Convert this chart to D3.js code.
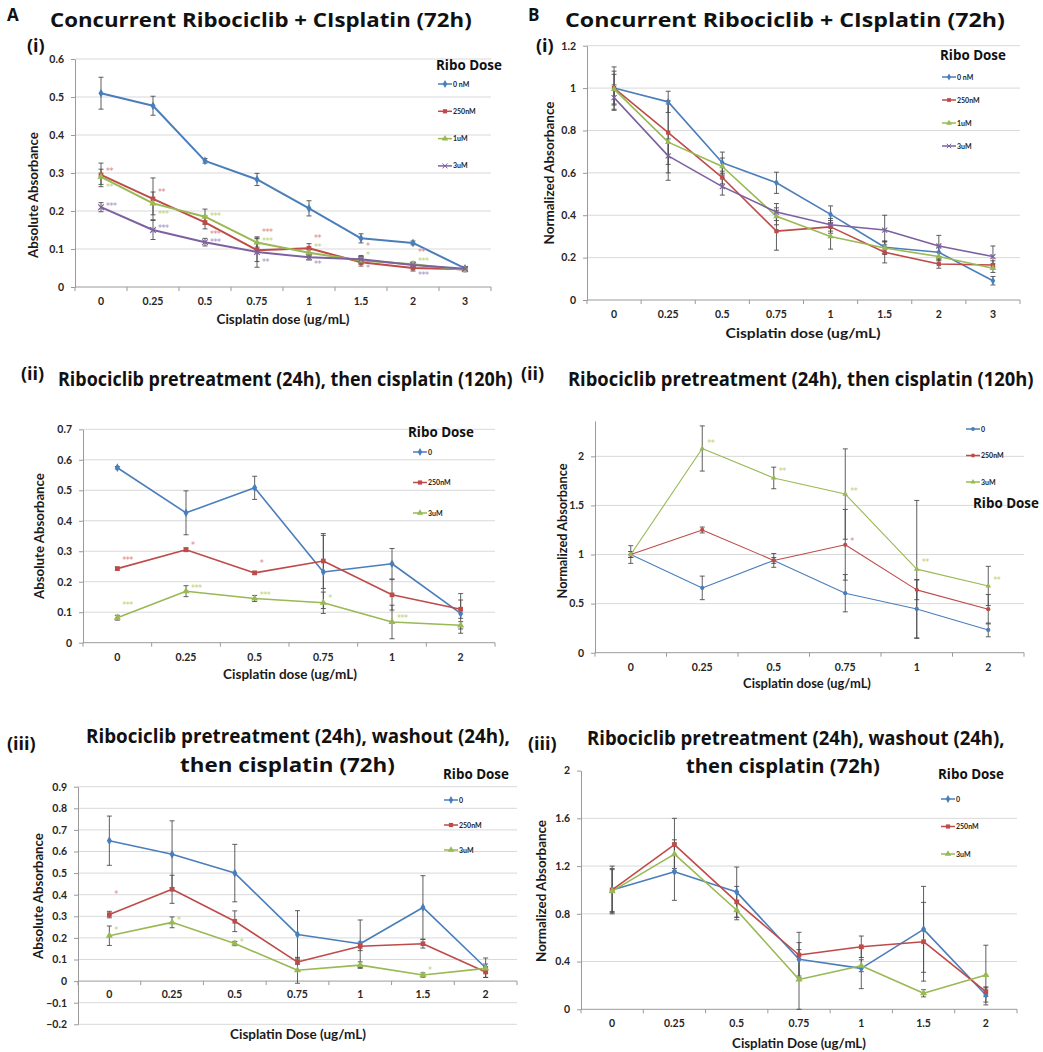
<!DOCTYPE html>
<html>
<head>
<meta charset="utf-8">
<script src="https://cdn.jsdelivr.net/npm/d3@7"></script>
<style>
  body { margin: 0; background: #fff; }
  svg { display: block; }
</style>
</head>
<body>
<div id="fig"></div>
<script>
// ---- categories / legend names / tick labels
const dose8 = ["0", "0.25", "0.5", "0.75", "1", "1.5", "2", "3"];
const dose6 = ["0", "0.25", "0.5", "0.75", "1", "2"];
const dose7 = ["0", "0.25", "0.5", "0.75", "1", "1.5", "2"];
const ribo4 = ["0 nM", "250nM", "1uM", "3uM"];
const ribo3 = ["0", "250nM", "3uM"];

const a1Ticks = [0, 0.1, 0.2, 0.3, 0.4, 0.5, 0.6];
const b1Ticks = [0, 0.2, 0.4, 0.6, 0.8, 1, 1.2];
const a2Ticks = [0, 0.1, 0.2, 0.3, 0.4, 0.5, 0.6, 0.7];
const b2Ticks = [0, 0.5, 1, 1.5, 2];
const a3Ticks = [-0.2, -0.1, 0, 0.1, 0.2, 0.3, 0.4, 0.5, 0.6, 0.7, 0.8, 0.9];
const b3Ticks = [0, 0.4, 0.8, 1.2, 1.6, 2];

// ---- A(i) concurrent, absolute  (series: 0nM, 250nM, 1uM, 3uM)
const a1Mean = [
  [0.51, 0.477, 0.332, 0.283, 0.207, 0.128, 0.116, 0.049],
  [0.295, 0.232, 0.17, 0.097, 0.102, 0.065, 0.05, 0.047],
  [0.29, 0.22, 0.185, 0.117, 0.09, 0.07, 0.06, 0.045],
  [0.21, 0.15, 0.118, 0.092, 0.078, 0.073, 0.058, 0.048]
];
const a1Err = [
  [0.042, 0.025, 0.006, 0.016, 0.02, 0.012, 0.005, 0.004],
  [0.031, 0.055, 0.017, 0.03, 0.012, 0.01, 0.008, 0.005],
  [0.02, 0.03, 0.02, 0.012, 0.01, 0.01, 0.006, 0.005],
  [0.012, 0.025, 0.01, 0.04, 0.007, 0.01, 0.005, 0.004]
];
// [series, category, value, label]
const a1Stars = [
  [1, 0, 0.31, "**"], [2, 0, 0.268, "**"], [3, 0, 0.218, "***"],
  [1, 1, 0.255, "**"], [2, 1, 0.197, "***"], [3, 1, 0.16, "***"],
  [2, 2, 0.19, "***"], [1, 2, 0.143, "***"], [3, 2, 0.122, "***"],
  [1, 3, 0.15, "***"], [2, 3, 0.125, "***"], [3, 3, 0.071, "**"],
  [1, 4, 0.132, "**"], [2, 4, 0.108, "**"], [3, 4, 0.064, "**"],
  [1, 5, 0.112, "*"], [2, 5, 0.087, "*"], [3, 5, 0.053, "*"],
  [1, 6, 0.097, "**"], [2, 6, 0.072, "***"], [3, 6, 0.036, "***"]
];

// ---- B(i) concurrent, normalized
const b1Mean = [
  [1.0, 0.935, 0.648, 0.553, 0.404, 0.249, 0.225, 0.091],
  [1.0, 0.79, 0.578, 0.325, 0.345, 0.225, 0.17, 0.165],
  [0.995, 0.745, 0.63, 0.395, 0.3, 0.245, 0.205, 0.15],
  [0.955, 0.68, 0.535, 0.415, 0.355, 0.33, 0.255, 0.205]
];
const b1Err = [
  [0.1, 0.05, 0.05, 0.05, 0.04, 0.03, 0.03, 0.02],
  [0.08, 0.15, 0.03, 0.09, 0.03, 0.05, 0.02, 0.02],
  [0.07, 0.18, 0.04, 0.04, 0.06, 0.03, 0.02, 0.02],
  [0.06, 0.08, 0.04, 0.04, 0.03, 0.07, 0.05, 0.05]
];

// ---- A(ii) pretreatment then cisplatin 120h, absolute (0, 250nM, 3uM)
const a2Mean = [
  [0.574, 0.426, 0.508, 0.232, 0.259, 0.096],
  [0.243, 0.305, 0.229, 0.268, 0.157, 0.11],
  [0.082, 0.169, 0.145, 0.131, 0.068, 0.057]
];
const a2Err = [
  [0.004, 0.072, 0.038, 0.12, 0.05, 0.065],
  [0.005, 0.006, 0.005, 0.09, 0.05, 0.03],
  [0.008, 0.018, 0.01, 0.035, 0.055, 0.012]
];
const a2Stars = [
  [1, 0, 0.275, "***"], [1, 1, 0.324, "*"], [1, 2, 0.266, "*"],
  [2, 0, 0.128, "***"], [2, 1, 0.184, "***"], [2, 2, 0.16, "***"],
  [2, 3, 0.151, "*"], [2, 4, 0.085, "***"]
];

// ---- B(ii) normalized
const b2Mean = [
  [1.0, 0.66, 0.94, 0.606, 0.446, 0.232],
  [1.0, 1.25, 0.94, 1.099, 0.64, 0.443],
  [1.0, 2.08, 1.78, 1.616, 0.851, 0.68]
];
const b2Err = [
  [0.09, 0.12, 0.07, 0.19, 0.3, 0.07],
  [0.03, 0.03, 0.03, 0.36, 0.1, 0.15],
  [0.03, 0.23, 0.11, 0.46, 0.7, 0.2]
];
const b2Stars = [
  [2, 1, 2.153, "**"], [2, 2, 1.864, "**"], [2, 3, 1.667, "**"],
  [2, 4, 0.936, "**"], [2, 5, 0.752, "**"], [1, 3, 1.15, "*"]
];

// ---- A(iii) pretreatment, washout, cisplatin 72h, absolute
const a3Mean = [
  [0.65, 0.587, 0.5, 0.216, 0.173, 0.341, 0.062],
  [0.308, 0.425, 0.277, 0.088, 0.161, 0.173, 0.042],
  [0.21, 0.272, 0.174, 0.05, 0.074, 0.028, 0.059]
];
const a3Err = [
  [0.114, 0.155, 0.133, 0.11, 0.11, 0.147, 0.045],
  [0.015, 0.065, 0.048, 0.01, 0.02, 0.02, 0.025],
  [0.045, 0.025, 0.01, 0.06, 0.015, 0.01, 0.02]
];
const a3Stars = [
  [1, 0, 0.409, "*"], [2, 0, 0.245, "*"], [2, 1, 0.289, "*"],
  [2, 2, 0.188, "*"], [2, 5, 0.057, "*"]
];

// ---- B(iii) normalized
const b3Mean = [
  [1.0, 1.153, 0.982, 0.419, 0.343, 0.67, 0.12],
  [1.0, 1.38, 0.9, 0.455, 0.524, 0.566, 0.148],
  [0.99, 1.3, 0.83, 0.25, 0.365, 0.134, 0.287]
];
const b3Err = [
  [0.2, 0.24, 0.21, 0.14, 0.17, 0.36, 0.06],
  [0.18, 0.22, 0.13, 0.19, 0.09, 0.33, 0.04],
  [0.18, 0.12, 0.08, 0.25, 0.05, 0.03, 0.25]
];

// ---- styles
const colBlue = "#4a7ebb", colRed = "#be4b48", colGreen = "#98b954", colPurple = "#7d60a0";
const starCol = { [colRed]: "#e0807c", [colGreen]: "#b7d270", [colPurple]: "#a08bc4" };
const sym4 = [d3.symbolDiamond, d3.symbolSquare, d3.symbolTriangle, d3.symbolX];

const W = 1043, H = 1052;
const svg = d3.select("#fig").append("svg").attr("width", W).attr("height", H);

const titleFont = "'Open Sans', 'DejaVu Sans', sans-serif";
const axisFont = "Lato, 'Open Sans', sans-serif";

const panels = [
  { cats: dose8, names: ribo4, mean: a1Mean, err: a1Err, stars: a1Stars,
    cols: [colBlue, colRed, colGreen, colPurple], syms: sym4,
    x0: 75, x1: 491, yDom: [0, 0.6], yRange: [287, 59], ticks: a1Ticks,
    xLabY: 305, lw: 2, msize: 22, yTitle: "Absolute Absorbance", yTitleX: 38, yTitleY: 195, yTitleLen: 126,
    xTitle: "Cisplatin dose (ug/mL)", xTitleX: 283, xTitleY: 324, xTitleLen: 133,
    leg: { x: 438, y: 84, dy: 27.3, tx: 436, ty: 70, fs: 7 } },
  { cats: dose8, names: ribo4, mean: b1Mean, err: b1Err, stars: [],
    cols: [colBlue, colRed, colGreen, colPurple], syms: sym4,
    x0: 587, x1: 1020, yDom: [0, 1.2], yRange: [300, 45.7], ticks: b1Ticks,
    xLabY: 318, lw: 1.6, msize: 18, yTitle: "Normalized Absorbance", yTitleX: 554, yTitleY: 173, yTitleLen: 143,
    xTitle: "Cisplatin dose (ug/mL)", xTitleX: 803, xTitleY: 338, xTitleLen: 155,
    leg: { x: 942, y: 77, dy: 23, tx: 940, ty: 60, fs: 7 } },
  { cats: dose6, names: ribo3, mean: a2Mean, err: a2Err, stars: a2Stars,
    cols: [colBlue, colRed, colGreen], syms: [d3.symbolDiamond, d3.symbolSquare, d3.symbolTriangle],
    x0: 83, x1: 495, yDom: [0, 0.7], yRange: [642.7, 429.3], ticks: a2Ticks,
    xLabY: 661, lw: 1.6, msize: 22, yTitle: "Absolute Absorbance", yTitleX: 44, yTitleY: 536, yTitleLen: 126,
    xTitle: "Cisplatin dose (ug/mL)", xTitleX: 290, xTitleY: 679, xTitleLen: 134,
    leg: { x: 413, y: 452, dy: 30.5, tx: 408, ty: 437, fs: 7 } },
  { cats: dose6, names: ribo3, mean: b2Mean, err: b2Err, stars: b2Stars,
    cols: [colBlue, colRed, colGreen], syms: [d3.symbolCircle, d3.symbolCircle, d3.symbolTriangle],
    x0: 595, x1: 1024, yDom: [0, 2.36], yRange: [652.7, 421], ticks: b2Ticks,
    xLabY: 671, lw: 1.1, msize: 14, yTitle: "Normalized Absorbance", yTitleX: 567, yTitleY: 531, yTitleLen: 135,
    xTitle: "Cisplatin dose (ug/mL)", xTitleX: 807, xTitleY: 688, xTitleLen: 128,
    leg: { x: 966, y: 429, dy: 26.5, tx: 973, ty: 508, fs: 7 } },
  { cats: dose7, names: ribo3, mean: a3Mean, err: a3Err, stars: a3Stars,
    cols: [colBlue, colRed, colGreen], syms: [d3.symbolDiamond, d3.symbolSquare, d3.symbolTriangle],
    x0: 78, x1: 517, yDom: [-0.2, 0.9], yRange: [1024.3, 786.7], ticks: a3Ticks,
    xLabY: 998, lw: 1.6, msize: 22, yTitle: "Absolute Absorbance", yTitleX: 43, yTitleY: 896, yTitleLen: 126,
    xTitle: "Cisplatin Dose (ug/mL)", xTitleX: 298, xTitleY: 1039, xTitleLen: 136,
    leg: { x: 444, y: 800, dy: 25, tx: 443, ty: 779, fs: 7 } },
  { cats: dose7, names: ribo3, mean: b3Mean, err: b3Err, stars: [],
    cols: [colBlue, colRed, colGreen], syms: [d3.symbolDiamond, d3.symbolSquare, d3.symbolTriangle],
    x0: 581, x1: 1017, yDom: [0, 2], yRange: [1009.3, 770.6], ticks: b3Ticks,
    xLabY: 1027, lw: 1.6, msize: 22, yTitle: "Normalized Absorbance", yTitleX: 546, yTitleY: 891, yTitleLen: 142,
    xTitle: "Cisplatin Dose (ug/mL)", xTitleX: 799, xTitleY: 1048, xTitleLen: 134,
    leg: { x: 941, y: 799, dy: 27.5, tx: 938, ty: 779, fs: 7 } }
];

// text squeezed to a target width by scaling the font, then stretched back vertically
function fitText(sel, str, x, y, len, fs, rotate) {
  const t = sel.append("text").attr("font-size", fs).text(str);
  const w = t.node().getComputedTextLength();
  const f = fs * len / w;
  t.attr("font-size", f);
  const sy = fs / f;
  t.attr("transform", `translate(${x},${y})${rotate ? " rotate(-90)" : ""} scale(1,${sy})`);
  return t;
}

function drawPanel(p) {
  const x = d3.scaleBand().domain(p.cats).range([p.x0, p.x1]);
  const y = d3.scaleLinear().domain(p.yDom).range(p.yRange);
  const bw = x.bandwidth();
  const cx = i => x(p.cats[i]) + bw / 2;
  const g = svg.append("g");

  // gridlines
  g.append("g").selectAll("line")
    .data(p.ticks.filter(t => t !== 0 && !(p.yDom[1] === 2 && t === 2)))
    .join("line")
      .attr("x1", p.x0).attr("x2", p.x1)
      .attr("y1", d => y(d)).attr("y2", d => y(d))
      .attr("stroke", "#d9d9d9").attr("stroke-width", 1);

  // y axis
  const ya = g.append("g").attr("transform", `translate(${p.x0},0)`)
    .call(d3.axisLeft(y).tickValues(p.ticks).tickSize(4).tickSizeOuter(0).tickPadding(7).tickFormat(d3.format("")));
  ya.select(".domain").attr("stroke", "#9a9a9a");
  ya.selectAll(".tick line").attr("stroke", "#9a9a9a");
  ya.selectAll(".tick text").attr("font-family", axisFont).attr("font-weight", 700)
    .attr("font-size", 10.5).attr("fill", "#262626");

  // x axis at zero
  const y0 = y(0);
  g.append("line").attr("x1", p.x0).attr("x2", p.x1).attr("y1", y0).attr("y2", y0)
    .attr("stroke", "#9a9a9a");
  g.append("g").selectAll("line")
    .data(p.cats.map(c => x(c)).concat([p.x1]))
    .join("line")
      .attr("x1", d => d).attr("x2", d => d).attr("y1", y0).attr("y2", y0 + 4)
      .attr("stroke", "#9a9a9a");
  g.append("g").selectAll("text").data(p.cats).join("text")
    .attr("x", d => x(d) + bw / 2).attr("y", p.xLabY)
    .attr("text-anchor", "middle").attr("font-family", axisFont).attr("font-weight", 700)
    .attr("font-size", 10.5).attr("fill", "#262626").text(d => d);

  // axis titles
  const at = g.append("g").attr("font-family", axisFont).attr("font-weight", 700)
    .attr("fill", "#1a1a1a").attr("text-anchor", "middle");
  fitText(at, p.yTitle, p.yTitleX, p.yTitleY, p.yTitleLen, 13.5, true);
  fitText(at, p.xTitle, p.xTitleX, p.xTitleY, p.xTitleLen, 14, false);

  const line = d3.line().x((d, i) => cx(i)).y(d => y(d));

  // error bars first, lines and markers on top
  p.mean.forEach((series, s) => {
    const eb = g.append("g").attr("stroke", "#4d4d4d").attr("stroke-width", 0.9);
    series.forEach((m, i) => {
      const e = p.err[s][i];
      const xx = cx(i);
      eb.append("line").attr("x1", xx).attr("x2", xx).attr("y1", y(m - e)).attr("y2", y(m + e));
      eb.append("line").attr("x1", xx - 2.5).attr("x2", xx + 2.5).attr("y1", y(m - e)).attr("y2", y(m - e));
      eb.append("line").attr("x1", xx - 2.5).attr("x2", xx + 2.5).attr("y1", y(m + e)).attr("y2", y(m + e));
    });
  });

  p.mean.forEach((series, s) => {
    const col = p.cols[s];
    g.append("path").datum(series)
      .attr("d", line).attr("fill", "none").attr("stroke", col)
      .attr("stroke-width", p.lw).attr("stroke-linejoin", "round");
    const isX = p.syms[s] === d3.symbolX;
    g.append("g").selectAll("path").data(series).join("path")
      .attr("transform", (d, i) => `translate(${cx(i)},${y(d)})`)
      .attr("d", d3.symbol().type(p.syms[s]).size(p.msize))
      .attr("fill", isX ? "none" : col).attr("stroke", isX ? col : "none").attr("stroke-width", 1.2);
  });

  // significance stars
  g.append("g").selectAll("text").data(p.stars).join("text")
    .attr("x", d => cx(d[1]) + 5)
    .attr("y", d => y(d[2]) + 4.5)
    .attr("font-family", "'DejaVu Sans', sans-serif").attr("font-size", 8)
    .attr("letter-spacing", -0.5)
    .attr("fill", d => starCol[p.cols[d[0]]] || p.cols[d[0]])
    .text(d => d[3]);

  // legend
  const L = p.leg;
  const lt = g.append("g").attr("font-family", titleFont).attr("font-weight", 700).attr("fill", "#111");
  fitText(lt, "Ribo Dose", L.tx, L.ty, 66, 14, false);
  p.names.forEach((n, s) => {
    const ly = L.y + s * L.dy;
    const col = p.cols[s];
    const isX = p.syms[s] === d3.symbolX;
    g.append("line").attr("x1", L.x).attr("x2", L.x + 14).attr("y1", ly).attr("y2", ly)
      .attr("stroke", col).attr("stroke-width", 1.5);
    g.append("path").attr("transform", `translate(${L.x + 7},${ly})`)
      .attr("d", d3.symbol().type(p.syms[s]).size(p.msize * 0.8))
      .attr("fill", isX ? "none" : col).attr("stroke", isX ? col : "none");
    g.append("text").attr("x", L.x + 15).attr("y", ly + 2.5)
      .attr("font-family", axisFont).attr("font-size", L.fs).attr("font-weight", 700)
      .attr("fill", "#222").text(n);
  });
}

panels.forEach(drawPanel);

// ---- titles and panel letters
const titles = [
  { t: "Concurrent Ribociclib + CIsplatin (72h)", x: 50, y: 27, len: 422 },
  { t: "Concurrent Ribociclib + CIsplatin (72h)", x: 565, y: 27, len: 440 },
  { t: "Ribociclib pretreatment (24h), then cisplatin (120h)", x: 58, y: 386, len: 455 },
  { t: "Ribociclib pretreatment (24h), then cisplatin (120h)", x: 568, y: 386, len: 466 },
  { t: "Ribociclib pretreatment (24h), washout (24h),", x: 86, y: 743, len: 424 },
  { t: "then cisplatin (72h)", x: 180, y: 772, len: 215 },
  { t: "Ribociclib pretreatment (24h), washout (24h),", x: 587, y: 745, len: 418 },
  { t: "then cisplatin (72h)", x: 686, y: 773, len: 194 }
];
const tg = svg.append("g").attr("font-family", titleFont).attr("font-weight", 700).attr("fill", "#111");
titles.forEach(d => fitText(tg, d.t, d.x, d.y, d.len, 20, false));

const letters = [
  { t: "A", x: 7, y: 21, fs: 17 }, { t: "B", x: 528, y: 21, fs: 17 },
  { t: "(i)", x: 27, y: 52, fs: 18 }, { t: "(i)", x: 536, y: 52, fs: 18 },
  { t: "(ii)", x: 21, y: 380, fs: 18 }, { t: "(ii)", x: 521, y: 380, fs: 18 },
  { t: "(iii)", x: 7, y: 750, fs: 18 }, { t: "(iii)", x: 528, y: 750, fs: 18 }
];
svg.append("g").selectAll("text").data(letters).join("text")
  .attr("x", d => d.x).attr("y", d => d.y)
  .attr("font-family", titleFont).attr("font-weight", 700).attr("font-size", d => d.fs)
  .attr("fill", "#111").text(d => d.t);
</script>
</body>
</html>
